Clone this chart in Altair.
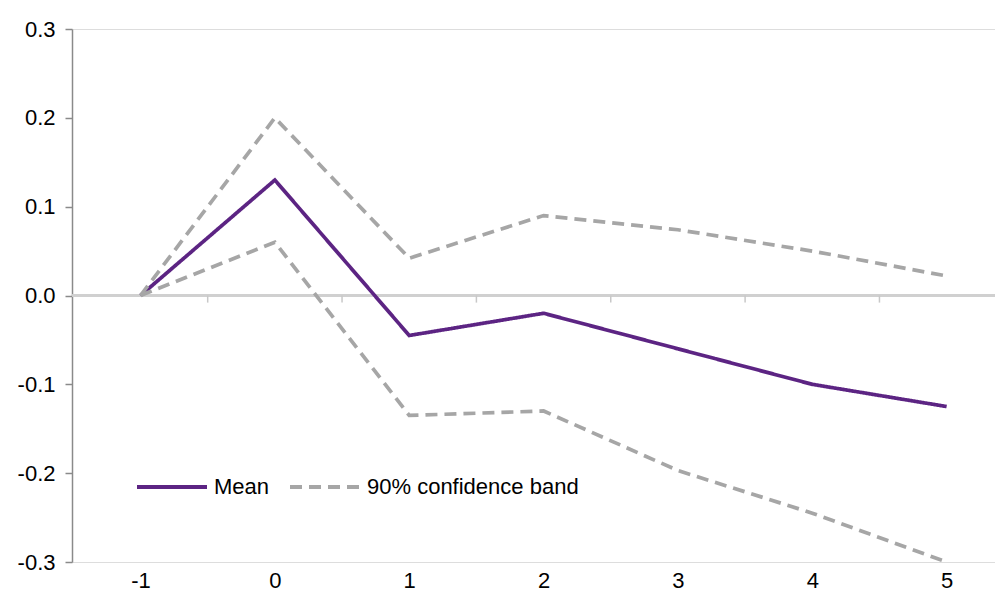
import altair as alt
import pandas as pd

horizons = [-1, 0, 1, 2, 3, 4, 5]
mean_vals = [0.0, 0.13, -0.045, -0.02, -0.06, -0.1, -0.125]
upper_vals = [0.0, 0.2, 0.042, 0.09, 0.074, 0.05, 0.022]
lower_vals = [0.0, 0.06, -0.135, -0.13, -0.197, -0.245, -0.3]

series_names = ["Mean", "90% confidence band"]
series_colors = ["#5C2483", "#A6A6A6"]
series_dash = [[1, 0], [12, 7]]

x_labels = [-1, 0, 1, 2, 3, 4, 5]
y_ticks = [-0.3, -0.2, -0.1, 0.0, 0.1, 0.2, 0.3]
zero_ticks = [-0.5, 0.5, 1.5, 2.5, 3.5, 4.5]

rows = []
for h, m, u, l in zip(horizons, mean_vals, upper_vals, lower_vals):
    rows.append({"h": h, "v": m, "series": "Mean", "line": "mean"})
    rows.append({"h": h, "v": u, "series": "90% confidence band", "line": "upper"})
    rows.append({"h": h, "v": l, "series": "90% confidence band", "line": "lower"})
df = pd.DataFrame(rows)
ticks_df = pd.DataFrame({"t": zero_ticks})

FONT = "Liberation Sans"
FS = 22
xscale = alt.Scale(domain=[-1.51, 5.36], nice=False, zero=False)
yscale = alt.Scale(domain=[-0.3, 0.3], nice=False)

x_axis = alt.Axis(values=x_labels, title=None, domain=False, ticks=False, grid=False,
                  labelFontSize=FS, labelFont=FONT, labelColor="#000", labelPadding=8,
                  labelExpr="datum.value < 0 ? '-' + format(-datum.value, 'd') : format(datum.value, 'd')")
y_axis = alt.Axis(values=y_ticks, title=None, grid=False, domain=True,
                  domainColor="#8a8a8a", domainWidth=1.5, tickColor="#8a8a8a", tickWidth=1.5,
                  tickSize=7, labelFontSize=FS, labelFont=FONT, labelColor="#000", labelPadding=10,
                  labelExpr="datum.value < -0.0001 ? '-' + format(-datum.value, '.1f') : format(abs(datum.value), '.1f')")

zero_line = alt.Chart(df).mark_rule(color="#d0d0d0", strokeWidth=1.5).encode(
    y=alt.datum(0, scale=yscale, axis=y_axis)
)

zero_tick_marks = alt.Chart(ticks_df).mark_rule(color="#c8c8c8", strokeWidth=1.5).encode(
    x=alt.X("t:Q", scale=xscale, axis=x_axis),
    y=alt.datum(0),
    y2=alt.datum(-0.008),
)

legend = alt.Legend(title=None, orient="none", legendX=63, legendY=421, direction="horizontal",
                    symbolType="stroke", symbolSize=4900, symbolStrokeWidth=4,
                    labelFontSize=FS, labelFont=FONT, labelColor="#000", labelOffset=5,
                    labelLimit=400, columnPadding=12)

lines = alt.Chart(df).mark_line(strokeWidth=3.7, strokeCap="butt").encode(
    x=alt.X("h:Q", scale=xscale, axis=x_axis),
    y=alt.Y("v:Q", scale=yscale, axis=y_axis),
    color=alt.Color("series:N", scale=alt.Scale(domain=series_names, range=series_colors), legend=legend),
    strokeDash=alt.StrokeDash("series:N", scale=alt.Scale(domain=series_names, range=series_dash), legend=legend),
    detail="line:N",
    order="h:Q",
)

chart = alt.layer(zero_line, zero_tick_marks, lines).properties(
    width=923, height=533,
    autosize=alt.AutoSizeParams(type="none"),
    padding={"left": 64, "top": 21, "right": 0, "bottom": 30},
).configure_view(stroke=None).configure(background="white")

chart.save("out.html", embed_options={"renderer": "svg", "actions": False})
